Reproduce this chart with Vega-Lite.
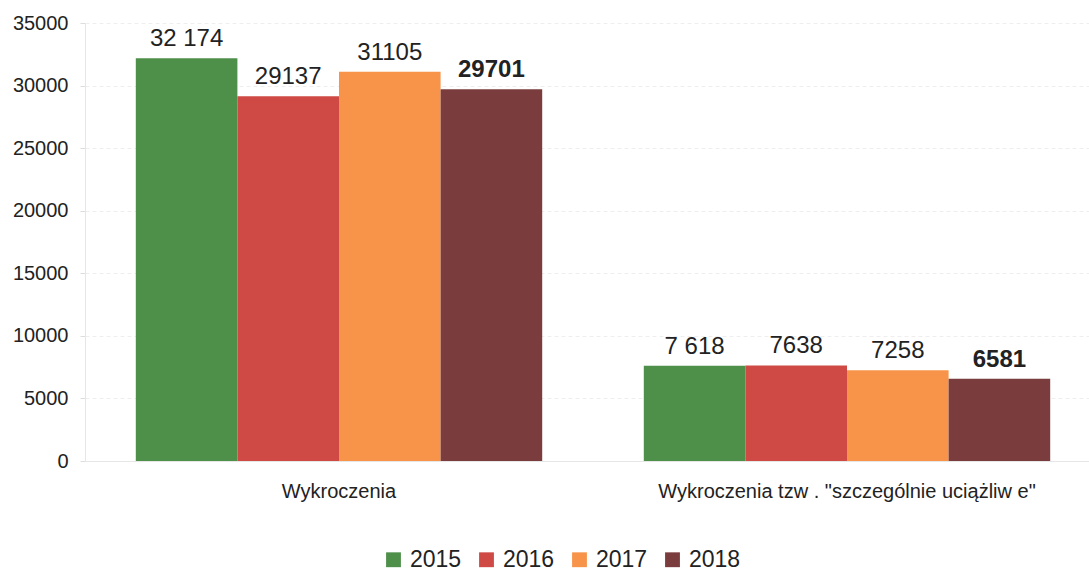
{
  "$schema": "https://vega.github.io/schema/vega-lite/v6.json",
  "autosize": "none",
  "width": 1016,
  "height": 438,
  "padding": {"left": 85, "top": 23, "right": 0, "bottom": 110},
  "background": "white",
  "config": {
    "font": "Liberation Sans",
    "view": {"stroke": null}
  },
  "data": {
    "values": [
      {"cat": "Wykroczenia", "year": "2015", "value": 32174, "label": "32 174", "bold": "n"},
      {"cat": "Wykroczenia", "year": "2016", "value": 29137, "label": "29137", "bold": "n"},
      {"cat": "Wykroczenia", "year": "2017", "value": 31105, "label": "31105", "bold": "n"},
      {"cat": "Wykroczenia", "year": "2018", "value": 29701, "label": "29701", "bold": "y"},
      {"cat": "Wykroczenia tzw . \"szczególnie uciążliw e\"", "year": "2015", "value": 7618, "label": "7 618", "bold": "n"},
      {"cat": "Wykroczenia tzw . \"szczególnie uciążliw e\"", "year": "2016", "value": 7638, "label": "7638", "bold": "n"},
      {"cat": "Wykroczenia tzw . \"szczególnie uciążliw e\"", "year": "2017", "value": 7258, "label": "7258", "bold": "n"},
      {"cat": "Wykroczenia tzw . \"szczególnie uciążliw e\"", "year": "2018", "value": 6581, "label": "6581", "bold": "y"}
    ]
  },
  "encoding": {
    "x": {
      "field": "cat", "type": "nominal", "sort": null, "title": null,
      "scale": {"paddingInner": 0.2, "paddingOuter": 0.1},
      "axis": {"labelAngle": 0, "labelFontSize": 20, "labelColor": "#222", "labelPadding": 20, "labelLimit": 0, "ticks": false, "domainColor": "#e6e6e6"}
    },
    "xOffset": {"field": "year", "type": "nominal"},
    "y": {
      "field": "value", "type": "quantitative", "title": null,
      "scale": {"domain": [0, 35000]},
      "axis": {"values": [0, 5000, 10000, 15000, 20000, 25000, 30000, 35000], "format": "d", "labelFontSize": 20, "labelColor": "#222", "labelPadding": 12, "tickColor": "#ddd", "domainColor": "#e6e6e6", "gridColor": "#eeeeee", "gridDash": [4, 3]}
    }
  },
  "layer": [
    {
      "mark": {"type": "bar"},
      "encoding": {
        "color": {
          "field": "year", "type": "nominal", "title": null,
          "scale": {"domain": ["2015", "2016", "2017", "2018"], "range": ["#4e8f4a", "#cf4a44", "#f8944a", "#7a3c3c"]},
          "legend": {"orient": "none", "legendX": 297, "legendY": 525, "direction": "horizontal", "symbolType": "square", "symbolSize": 220, "symbolStrokeWidth": 0, "labelFontSize": 23, "labelColor": "#222", "columnPadding": 13, "labelOffset": 5}
        }
      }
    },
    {
      "transform": [{"filter": "datum.bold == 'n'"}],
      "mark": {"type": "text", "baseline": "bottom", "dy": -7, "fontSize": 24, "color": "#222"},
      "encoding": {"text": {"field": "label"}}
    },
    {
      "transform": [{"filter": "datum.bold == 'y'"}],
      "mark": {"type": "text", "baseline": "bottom", "dy": -7, "fontSize": 24, "fontWeight": "bold", "color": "#222"},
      "encoding": {"text": {"field": "label"}}
    }
  ]
}
